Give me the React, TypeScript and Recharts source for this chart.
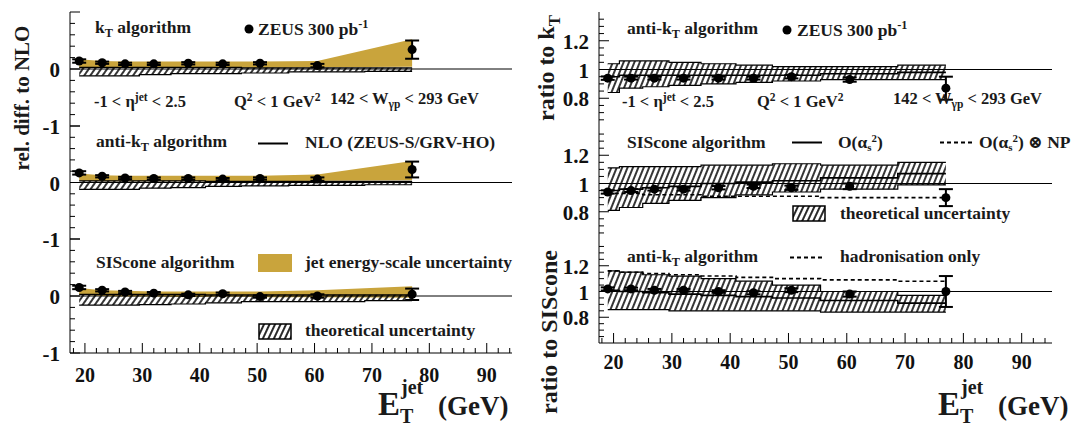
import React from 'react';
import { ComposedChart, Area, Line, Scatter, ErrorBar, XAxis, YAxis, ReferenceLine } from 'recharts';

// bin centres of E_T^jet (GeV)
const ET = [19, 23, 27, 32, 38, 44, 50.5, 60.5, 77];
const X_MAJOR = [20, 30, 40, 50, 60, 70, 80, 90];
const X_MINOR_STEP = 2;

const LEFT_Y_MAJOR = [-1, 0, 1];
const LEFT_Y_LABELS = [-1, 0];
const RIGHT_Y_MAJOR = [0.8, 1, 1.2];
const RIGHT_Y_LABELS = [0.8, 1, 1.2];

// left column: relative difference to NLO
const KT_DATA = [0.14, 0.11, 0.09, 0.09, 0.1, 0.09, 0.1, 0.06, 0.34];
const KT_ERR = [0.03, 0.02, 0.02, 0.02, 0.02, 0.02, 0.02, 0.03, 0.16];
const KT_JES_LO = [0.02, 0.02, 0.02, 0.02, 0.02, 0.02, 0.02, 0.03, 0.04];
const KT_JES_HI = [0.17, 0.14, 0.13, 0.13, 0.13, 0.13, 0.13, 0.14, 0.52];
const KT_TH_LO = [-0.12, -0.12, -0.12, -0.1, -0.08, -0.08, -0.07, -0.05, -0.04];
const KT_TH_HI = [0.03, 0.03, 0.03, 0.03, 0.03, 0.03, 0.02, 0.02, 0.02];

const AKT_DATA = [0.17, 0.11, 0.08, 0.07, 0.07, 0.06, 0.07, 0.06, 0.23];
const AKT_ERR = [0.03, 0.02, 0.02, 0.02, 0.02, 0.02, 0.02, 0.03, 0.14];
const AKT_JES_LO = [0.03, 0.02, 0.02, 0.02, 0.02, 0.02, 0.02, 0.03, 0.04];
const AKT_JES_HI = [0.16, 0.13, 0.12, 0.12, 0.12, 0.12, 0.12, 0.14, 0.38];
const AKT_TH_LO = [-0.12, -0.12, -0.12, -0.1, -0.09, -0.07, -0.06, -0.05, -0.04];
const AKT_TH_HI = [0.03, 0.03, 0.03, 0.03, 0.03, 0.02, 0.02, 0.02, 0.02];

const SIS_DATA = [0.15, 0.1, 0.07, 0.05, 0.02, 0.04, -0.01, 0.0, 0.03];
const SIS_ERR = [0.03, 0.02, 0.02, 0.02, 0.02, 0.02, 0.02, 0.03, 0.1];
const SIS_JES_LO = [0.02, 0.0, -0.01, -0.01, -0.02, -0.01, -0.02, -0.02, -0.03];
const SIS_JES_HI = [0.14, 0.1, 0.09, 0.08, 0.08, 0.08, 0.08, 0.1, 0.17];
const SIS_TH_LO = [-0.16, -0.16, -0.16, -0.15, -0.14, -0.12, -0.1, -0.1, -0.08];
const SIS_TH_HI = [0.03, 0.03, 0.03, 0.03, 0.03, 0.02, 0.02, 0.02, 0.02];

// right column: ratios
const R1_DATA = [0.94, 0.94, 0.94, 0.94, 0.94, 0.94, 0.95, 0.93, 0.87];
const R1_ERR = [0.012, 0.01, 0.01, 0.01, 0.01, 0.01, 0.012, 0.015, 0.08];
const R1_TH_LO = [0.84, 0.87, 0.88, 0.89, 0.9, 0.91, 0.92, 0.93, 0.93];
const R1_TH_HI = [1.04, 1.06, 1.06, 1.05, 1.04, 1.03, 1.02, 1.02, 1.03];
const R1_NLO = [0.95, 0.96, 0.96, 0.96, 0.96, 0.96, 0.96, 0.97, 0.98];

const R2_DATA = [0.94, 0.95, 0.96, 0.96, 0.97, 0.98, 0.97, 0.98, 0.9];
const R2_ERR = [0.012, 0.01, 0.01, 0.01, 0.012, 0.012, 0.015, 0.02, 0.06];
const R2_TH_LO = [0.81, 0.83, 0.86, 0.88, 0.9, 0.92, 0.94, 0.96, 0.99];
const R2_TH_HI = [1.11, 1.12, 1.12, 1.12, 1.13, 1.13, 1.14, 1.13, 1.15];
const R2_NLO = [0.95, 0.96, 0.97, 0.98, 1.0, 1.01, 1.02, 1.04, 1.07];
const R2_NP = [0.93, 0.93, 0.92, 0.92, 0.91, 0.91, 0.91, 0.9, 0.9];

const R3_DATA = [1.02, 1.02, 1.01, 1.01, 1.0, 0.99, 1.01, 0.98, 1.0];
const R3_ERR = [0.012, 0.01, 0.01, 0.01, 0.01, 0.012, 0.015, 0.02, 0.12];
const R3_TH_LO = [0.86, 0.86, 0.86, 0.85, 0.85, 0.85, 0.85, 0.84, 0.84];
const R3_TH_HI = [1.16, 1.15, 1.13, 1.12, 1.1, 1.08, 1.05, 1.0, 0.97];
const R3_NLO = [1.01, 1.0, 0.99, 0.98, 0.97, 0.96, 0.95, 0.93, 0.91];
const R3_HAD = [1.16, 1.15, 1.14, 1.13, 1.12, 1.11, 1.1, 1.09, 1.08];

const GOLD = '#c9a43c';
const FONT = '"Liberation Serif", Tinos, "DejaVu Serif", serif';

const range = (a: number, b: number, step: number) => {
  const out: number[] = [];
  for (let v = a; v <= b + 1e-9; v += step) out.push(Math.round(v * 100) / 100);
  return out;
};
const X_TICKS = range(18, 94, X_MINOR_STEP);
const LEFT_Y_TICKS = range(-1, 1, 0.2);
const RIGHT_Y_TICKS = range(0.65, 1.35, 0.05);

const has = (arr: number[], v: number) => arr.some((m) => Math.abs(m - v) < 1e-6);

function buildRows(
  data: number[],
  err: number[],
  thLo: number[],
  thHi: number[],
  extra: { jesLo?: number[]; jesHi?: number[]; nlo?: number[]; np?: number[] } = {},
) {
  return ET.map((x, i) => ({
    x,
    y: data[i],
    err: err[i],
    theory: [thLo[i], thHi[i]],
    jes: extra.jesLo && extra.jesHi ? [extra.jesLo[i], extra.jesHi[i]] : undefined,
    nlo: extra.nlo ? extra.nlo[i] : undefined,
    np: extra.np ? extra.np[i] : undefined,
  }));
}

const xTick = (side: 'bottom' | 'top', showLabels: boolean, gap: number) => (p: any) => {
  const v = p.payload.value;
  const major = has(X_MAJOR, v);
  const len = major ? 10 : 5;
  const dir = side === 'bottom' ? -1 : 1;
  return (
    <g>
      <line x1={p.x} x2={p.x} y1={p.y} y2={p.y + dir * len} stroke="#000" strokeWidth={1} />
      {showLabels && major && (
        <text x={p.x} y={p.y + gap} textAnchor="middle" dominantBaseline="central" fontSize={20} fontWeight="bold" fontFamily={FONT} fill="#111">
          {v}
        </text>
      )}
    </g>
  );
};

const yTick = (side: 'left' | 'right', majors: number[], labels: number[]) => (p: any) => {
  const v = p.payload.value;
  const major = has(majors, v);
  const len = major ? 10 : 5;
  const dir = side === 'left' ? 1 : -1;
  return (
    <g>
      <line x1={p.x} x2={p.x + dir * len} y1={p.y} y2={p.y} stroke="#000" strokeWidth={1} />
      {side === 'left' && has(labels, v) && (
        <text x={p.x - 10} y={p.y + 1} textAnchor="end" dominantBaseline="central" fontSize={21} fontWeight="bold" fontFamily={FONT} fill="#111">
          {v}
        </text>
      )}
    </g>
  );
};

interface PanelProps {
  id: string;
  left: number;
  top: number;
  width: number;
  height: number;
  plotLeft: number;
  xDomain: [number, number];
  yDomain: [number, number];
  yTicks: number[];
  yMajors: number[];
  yLabels: number[];
  refY: number;
  rows: any[];
  labelGap?: number;
  jes?: boolean;
  nlo?: boolean;
  np?: boolean;
  hatchAngle: number;
}

function Panel(p: PanelProps) {
  const bottom = p.labelGap ? 40 : 0;
  const ax = { xAxisId: 'b', yAxisId: 'l' };
  return (
    <div style={{ position: 'absolute', left: p.left, top: p.top - 1 }}>
      <ComposedChart width={p.width + 1} height={p.height + 2 + bottom} data={p.rows} margin={{ top: 1, right: 1, bottom: 1, left: 0 }}>
        <defs>
          <pattern id={p.id} width={5} height={5} patternUnits="userSpaceOnUse" patternTransform={`rotate(${p.hatchAngle})`}>
            <line x1={1} y1={0} x2={1} y2={5} stroke="#111" strokeWidth={1.7} />
          </pattern>
        </defs>
        <XAxis xAxisId="b" dataKey="x" type="number" domain={p.xDomain} ticks={X_TICKS} interval={0} allowDataOverflow
          height={bottom} tickSize={0} tickMargin={0} tickLine={false} axisLine={{ stroke: '#000' }}
          tick={xTick('bottom', !!p.labelGap, p.labelGap ?? 0)} />
        <XAxis xAxisId="t" orientation="top" dataKey="x" type="number" domain={p.xDomain} ticks={X_TICKS} interval={0} allowDataOverflow
          height={0} tickSize={0} tickMargin={0} tickLine={false} axisLine={{ stroke: '#000' }} tick={xTick('top', false, 0)} />
        <YAxis yAxisId="l" type="number" domain={p.yDomain} ticks={p.yTicks} interval={0} allowDataOverflow
          width={p.plotLeft} tickSize={0} tickMargin={0} tickLine={false} axisLine={{ stroke: '#000' }}
          tick={yTick('left', p.yMajors, p.yLabels)} />
        <YAxis yAxisId="r" orientation="right" type="number" domain={p.yDomain} ticks={p.yTicks} interval={0} allowDataOverflow
          width={0} tickSize={0} tickMargin={0} tickLine={false} axisLine={{ stroke: '#000' }}
          tick={yTick('right', p.yMajors, p.yLabels)} />
        <ReferenceLine {...ax} y={p.refY} stroke="#000" strokeWidth={1} />
        {p.jes && <Area {...ax} dataKey="jes" type="linear" fill={GOLD} fillOpacity={1} stroke="none" isAnimationActive={false} />}
        <Area {...ax} dataKey="theory" type="step" fill={`url(#${p.id})`} fillOpacity={1} stroke="#000" strokeWidth={1.2} isAnimationActive={false} />
        {p.nlo && <Line {...ax} dataKey="nlo" type="step" stroke="#000" strokeWidth={1.6} dot={false} isAnimationActive={false} />}
        {p.np && <Line {...ax} dataKey="np" type="step" stroke="#000" strokeWidth={1.6} strokeDasharray="4 3" dot={false} isAnimationActive={false} />}
        <Scatter {...ax} dataKey="y" fill="#000" isAnimationActive={false}
          shape={(s: any) => <circle cx={s.cx} cy={s.cy} r={4.5} fill="#000" />}>
          <ErrorBar dataKey="err" direction="y" width={7} stroke="#000" strokeWidth={2} />
        </Scatter>
      </ComposedChart>
    </div>
  );
}

function T({ x, y, size = 17.5, children }: { x: number; y: number; size?: number; children: React.ReactNode }) {
  return (
    <div style={{ position: 'absolute', left: x, top: y, transform: 'translateY(-50%)', fontSize: size, whiteSpace: 'nowrap', lineHeight: 1 }}>
      {children}
    </div>
  );
}

const sub = { fontSize: '0.7em', verticalAlign: '-0.35em' } as const;
const sup = { fontSize: '0.7em', verticalAlign: '0.55em' } as const;

// alpha_s squared
const AlphaS2 = () => (
  <>
    α<span style={{ fontSize: '0.62em', verticalAlign: '-0.3em' }}>s</span>
    <span style={{ fontSize: '0.62em', verticalAlign: '0.6em' }}>2</span>
  </>
);

function Glyph({ x, y, w, h, children }: { x: number; y: number; w: number; h: number; children: React.ReactNode }) {
  return (
    <svg style={{ position: 'absolute', left: x, top: y }} width={w} height={h}>
      {children}
    </svg>
  );
}

function HatchBox({ x, y, id }: { x: number; y: number; id: string }) {
  return (
    <Glyph x={x} y={y} w={34} h={17}>
      <defs>
        <pattern id={id} width={5} height={5} patternUnits="userSpaceOnUse" patternTransform="rotate(25)">
          <line x1={1} y1={0} x2={1} y2={5} stroke="#111" strokeWidth={1.8} />
        </pattern>
      </defs>
      <rect x={1} y={1} width={32} height={15} fill={`url(#${id})`} stroke="#000" strokeWidth={1.5} />
    </Glyph>
  );
}

function ETitle({ x, y }: { x: number; y: number }) {
  return (
    <div style={{ position: 'absolute', left: x, top: y, whiteSpace: 'nowrap', lineHeight: 1 }}>
      <span style={{ fontSize: 33 }}>E</span>
      <span style={{ position: 'absolute', left: 23, top: -11, fontSize: 20 }}>jet</span>
      <span style={{ position: 'absolute', left: 22, top: 18, fontSize: 20 }}>T</span>
      <span style={{ fontSize: 27, marginLeft: 38 }}>(GeV)</span>
    </div>
  );
}

const kinematics = (x1: number, x2: number, x3: number, y: number, size: number) => (
  <>
    <T x={x1} y={y} size={size}>-1 &lt; η<span style={sup}>jet</span> &lt; 2.5</T>
    <T x={x2} y={y} size={size}>Q<span style={sup}>2</span> &lt; 1 GeV<span style={sup}>2</span></T>
    <T x={x3} y={y} size={size}>142 &lt; W<span style={sub}>γp</span> &lt; 293 GeV</T>
  </>
);

export default function App() {
  const LX: [number, number] = [17.4, 94.4];
  const RX: [number, number] = [17.5, 95.2];
  const LY: [number, number] = [-1, 1];
  const RY: [number, number] = [0.6, 1.4];
  const left = { left: 0, width: 512, plotLeft: 70, xDomain: LX, yDomain: LY, yTicks: LEFT_Y_TICKS, yMajors: LEFT_Y_MAJOR, yLabels: LEFT_Y_LABELS, refY: 0, jes: true, hatchAngle: 35 };
  const right = { left: 530, width: 522, plotLeft: 69, xDomain: RX, yDomain: RY, yTicks: RIGHT_Y_TICKS, yMajors: RIGHT_Y_MAJOR, yLabels: RIGHT_Y_LABELS, refY: 1, nlo: true, hatchAngle: 22 };

  return (
    <div style={{ position: 'absolute', left: 0, top: 0, width: 1078, height: 432, background: '#fff', fontFamily: FONT, fontWeight: 'bold', color: '#1a1a1a', overflow: 'hidden' }}>
      <style>{'.recharts-surface { overflow: visible; }'}</style>
      <Panel id="hl1" {...left} top={12} height={114} rows={buildRows(KT_DATA, KT_ERR, KT_TH_LO, KT_TH_HI, { jesLo: KT_JES_LO, jesHi: KT_JES_HI })} />
      <Panel id="hl2" {...left} top={126} height={113} rows={buildRows(AKT_DATA, AKT_ERR, AKT_TH_LO, AKT_TH_HI, { jesLo: AKT_JES_LO, jesHi: AKT_JES_HI })} />
      <Panel id="hl3" {...left} top={239} height={114} labelGap={22} rows={buildRows(SIS_DATA, SIS_ERR, SIS_TH_LO, SIS_TH_HI, { jesLo: SIS_JES_LO, jesHi: SIS_JES_HI })} />

      <Panel id="hr1" {...right} top={12} height={115} rows={buildRows(R1_DATA, R1_ERR, R1_TH_LO, R1_TH_HI, { nlo: R1_NLO })} />
      <Panel id="hr2" {...right} top={127} height={113} np rows={buildRows(R2_DATA, R2_ERR, R2_TH_LO, R2_TH_HI, { nlo: R2_NLO, np: R2_NP })} />
      <Panel id="hr3" {...right} top={240} height={103} np labelGap={19} rows={buildRows(R3_DATA, R3_ERR, R3_TH_LO, R3_TH_HI, { nlo: R3_NLO, np: R3_HAD })} />

      {/* axis titles */}
      <div style={{ position: 'absolute', left: 22, top: 98, transform: 'translate(-50%, -50%) rotate(-90deg)', fontSize: 21, whiteSpace: 'nowrap' }}>rel. diff. to NLO</div>
      <div style={{ position: 'absolute', left: 549, top: 68, transform: 'translate(-50%, -50%) rotate(-90deg)', fontSize: 24, whiteSpace: 'nowrap' }}>
        ratio to k<span style={sub}>T</span>
      </div>
      <div style={{ position: 'absolute', left: 549, top: 332, transform: 'translate(-50%, -50%) rotate(-90deg)', fontSize: 24, whiteSpace: 'nowrap' }}>ratio to SIScone</div>
      <ETitle x={378} y={388} />
      <ETitle x={938} y={388} />

      {/* left column labels */}
      <T x={95} y={29}>k<span style={sub}>T</span> algorithm</T>
      <Glyph x={243} y={23} w={12} h={12}><circle cx={6} cy={6} r={4.5} fill="#000" /></Glyph>
      <T x={258} y={28}>ZEUS 300 pb<span style={sup}>-1</span></T>
      {kinematics(94, 234, 330, 101, 16.5)}

      <T x={96} y={143}>anti-k<span style={sub}>T</span> algorithm</T>
      <Glyph x={258} y={141} w={30} h={5}><line x1={0} y1={2.5} x2={30} y2={2.5} stroke="#000" strokeWidth={2} /></Glyph>
      <T x={305} y={143}>NLO (ZEUS-S/GRV-HO)</T>

      <T x={96} y={263}>SIScone algorithm</T>
      <Glyph x={258} y={254} w={34} h={18}><rect x={0} y={0} width={34} height={18} fill={GOLD} /></Glyph>
      <T x={305} y={263}>jet energy-scale uncertainty</T>
      <HatchBox x={258} y={323} id="legh1" />
      <T x={305} y={331}>theoretical uncertainty</T>

      {/* right column labels */}
      <T x={627} y={30}>anti-k<span style={sub}>T</span> algorithm</T>
      <Glyph x={781} y={24} w={12} h={12}><circle cx={6} cy={6} r={4.5} fill="#000" /></Glyph>
      <T x={797} y={29}>ZEUS 300 pb<span style={sup}>-1</span></T>
      {kinematics(622, 757, 893, 101, 16.5)}

      <T x={627} y={143}>SIScone algorithm</T>
      <Glyph x={792} y={140} w={30} h={5}><line x1={0} y1={2.5} x2={30} y2={2.5} stroke="#000" strokeWidth={2} /></Glyph>
      <T x={838} y={143}>O(<AlphaS2 />)</T>
      <Glyph x={940} y={140} w={32} h={5}><line x1={0} y1={2.5} x2={32} y2={2.5} stroke="#000" strokeWidth={2} strokeDasharray="4 3" /></Glyph>
      <T x={979} y={143}>O(<AlphaS2 />) ⊗ NP</T>
      <HatchBox x={792} y={205} id="legh2" />
      <T x={840} y={214}>theoretical uncertainty</T>

      <T x={627} y={258}>anti-k<span style={sub}>T</span> algorithm</T>
      <Glyph x={790} y={255} w={32} h={5}><line x1={0} y1={2.5} x2={32} y2={2.5} stroke="#000" strokeWidth={2} strokeDasharray="4 3" /></Glyph>
      <T x={840} y={257}>hadronisation only</T>
    </div>
  );
}
